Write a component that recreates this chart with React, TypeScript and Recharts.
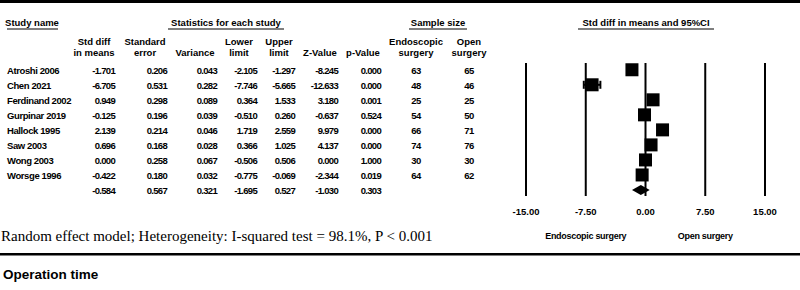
import React from "react";
import { ComposedChart, Scatter, XAxis, YAxis, ErrorBar } from "recharts";

const studies = [
  "Atroshi 2006",
  "Chen 2021",
  "Ferdinand 2002",
  "Gurpinar 2019",
  "Hallock 1995",
  "Saw 2003",
  "Wong 2003",
  "Worsge 1996",
];
const stdDiff = [-1.701, -6.705, 0.949, -0.125, 2.139, 0.696, 0.0, -0.422];
const stdErr = [0.206, 0.531, 0.298, 0.196, 0.214, 0.168, 0.258, 0.18];
const variance = [0.043, 0.282, 0.089, 0.039, 0.046, 0.028, 0.067, 0.032];
const lowerLimit = [-2.105, -7.746, 0.364, -0.51, 1.719, 0.366, -0.506, -0.775];
const upperLimit = [-1.297, -5.665, 1.533, 0.26, 2.559, 1.025, 0.506, -0.069];
const zValue = [-8.245, -12.633, 3.18, -0.637, 9.979, 4.137, 0.0, -2.344];
const pValue = [0.0, 0.0, 0.001, 0.524, 0.0, 0.0, 1.0, 0.019];
const nEndoscopic = [63, 48, 25, 54, 66, 74, 30, 64];
const nOpen = [65, 46, 25, 50, 71, 76, 30, 62];

// pooled (random effect) row
const pooledStats = [-0.584, 0.567, 0.321, -1.695, 0.527, -1.03, 0.303];

const xTicks = [-15, -7.5, 0, 7.5, 15];

// layout
const W = 800;
const H = 290;
const PLOT_LEFT = 526;
const PLOT_RIGHT = 765;
const PLOT_TOP = 63;
const PLOT_BOTTOM = 196;
const ROW0 = 70;
const ROW_STEP = 15;
const X_MIN = -15;
const X_MAX = 15;
const Y_DOMAIN = [-0.45, 8.4];
const PX_PER_UNIT = (PLOT_RIGHT - PLOT_LEFT) / (X_MAX - X_MIN);

const rowY = (i: number) => ROW0 + ROW_STEP * i;
const xPix = (v: number) => PLOT_LEFT + (v - X_MIN) * PX_PER_UNIT;

const studyData = studies.map((name, i) => ({
  name,
  row: i,
  x: stdDiff[i],
  ci: [stdDiff[i] - lowerLimit[i], upperLimit[i] - stdDiff[i]],
}));
const pooledData = [
  { row: studies.length, x: pooledStats[0], lower: pooledStats[3], upper: pooledStats[4] },
];
// one vertical rule per x tick, spanning the whole row range
const Y_MID = (Y_DOMAIN[0] + Y_DOMAIN[1]) / 2;
const ruleData = xTicks.map((t) => ({ x: t, row: Y_MID, span: [Y_MID - Y_DOMAIN[0], Y_DOMAIN[1] - Y_MID] }));

const statColumns = [
  { values: stdDiff, right: 115 },
  { values: stdErr, right: 167 },
  { values: variance, right: 217 },
  { values: lowerLimit, right: 257 },
  { values: upperLimit, right: 295 },
  { values: zValue, right: 338 },
  { values: pValue, right: 381 },
];

const headerCols = [
  { lines: ["Std diff", "in means"], cx: 94 },
  { lines: ["Standard", "error"], cx: 145 },
  { lines: ["", "Variance"], cx: 195 },
  { lines: ["Lower", "limit"], cx: 239 },
  { lines: ["Upper", "limit"], cx: 279 },
  { lines: ["", "Z-Value"], cx: 320 },
  { lines: ["", "p-Value"], cx: 363 },
  { lines: ["Endoscopic", "surgery"], cx: 416 },
  { lines: ["Open", "surgery"], cx: 469 },
];

const groupHeaders = [
  { text: "Study name", cx: 32, x1: 7, x2: 58 },
  { text: "Statistics for each study", cx: 226, x1: 168, x2: 284 },
  { text: "Sample size", cx: 438, x1: 409, x2: 467 },
  { text: "Std diff in means and 95%CI", cx: 646, x1: 578, x2: 714 },
];

const SANS = "'Liberation Sans', Arial, sans-serif";
const bold = { fontFamily: SANS, fontWeight: 700, fill: "#000" } as const;

const Square = (props: any) => {
  const { cx, cy } = props;
  return <rect x={cx - 6.5} y={cy - 6.5} width={13} height={13} fill="#000" />;
};

const Diamond = (props: any) => {
  const { cx, cy, payload } = props;
  const l = cx - (payload.x - payload.lower) * PX_PER_UNIT;
  const r = cx + (payload.upper - payload.x) * PX_PER_UNIT;
  return <polygon points={`${l},${cy} ${cx},${cy - 5} ${r},${cy} ${cx},${cy + 5}`} fill="#000" />;
};

const Nothing = () => <g />;

export default function App() {
  return (
    <div style={{ position: "absolute", left: 0, top: 0, width: W, height: H, background: "#fff" }}>
      <ComposedChart
        width={W}
        height={H}
        margin={{ top: PLOT_TOP, left: PLOT_LEFT, right: W - PLOT_RIGHT, bottom: H - PLOT_BOTTOM - 30 }}
      >
        <XAxis
          type="number"
          dataKey="x"
          domain={[X_MIN, X_MAX]}
          ticks={xTicks}
          allowDataOverflow
          height={30}
          axisLine={false}
          tickLine={false}
          tickMargin={6}
          tick={{ fontFamily: SANS, fontWeight: 700, fontSize: 9.5, fill: "#000" }}
          tickFormatter={(v: number) => v.toFixed(2)}
        />
        <YAxis type="number" dataKey="row" domain={Y_DOMAIN} reversed hide allowDataOverflow />
        <Scatter data={ruleData} shape={Nothing} isAnimationActive={false}>
          <ErrorBar dataKey="span" direction="y" width={0} stroke="#000" strokeWidth={2} />
        </Scatter>
        <Scatter data={studyData} shape={Square} isAnimationActive={false}>
          <ErrorBar dataKey="ci" direction="x" width={4} stroke="#000" strokeWidth={2} />
        </Scatter>
        <Scatter data={pooledData} shape={Diamond} isAnimationActive={false} />
      </ComposedChart>
      <svg width={W} height={H} style={{ position: "absolute", left: 0, top: 0, pointerEvents: "none" }}>
        <rect x={0} y={0} width={W} height={3} fill="#000" />
        {groupHeaders.map((g) => (
          <g key={g.text}>
            <text x={g.cx} y={26} textAnchor="middle" fontSize={9.5} {...bold}>
              {g.text}
            </text>
            <line x1={g.x1} x2={g.x2} y1={29} y2={29} stroke="#000" strokeWidth={1.2} />
          </g>
        ))}
        {headerCols.map((h) =>
          h.lines.map((t, k) => (
            <text key={h.cx + "-" + k} x={h.cx} y={45 + k * 10.5} textAnchor="middle" fontSize={9.5} {...bold}>
              {t}
            </text>
          ))
        )}
        {studies.map((s, i) => (
          <text key={s} x={7} y={rowY(i) + 3.5} fontSize={9.5} letterSpacing={-0.4} {...bold}>
            {s}
          </text>
        ))}
        {statColumns.map((c, ci) =>
          c.values.concat([pooledStats[ci]]).map((v, i) => (
            <text
              key={ci + "-" + i}
              x={c.right}
              y={rowY(i) + 3.5}
              textAnchor="end"
              fontSize={9.5}
              letterSpacing={-0.7}
              {...bold}
            >
              {v.toFixed(3)}
            </text>
          ))
        )}
        {[
          { values: nEndoscopic, cx: 416 },
          { values: nOpen, cx: 469 },
        ].map((c, ci) =>
          c.values.map((v, i) => (
            <text key={"n" + ci + "-" + i} x={c.cx} y={rowY(i) + 3.5} textAnchor="middle" fontSize={9.5} letterSpacing={-0.5} {...bold}>
              {v}
            </text>
          ))
        )}
        <text x={xPix(-7.5)} y={238.5} textAnchor="middle" fontSize={9} letterSpacing={-0.3} {...bold}>
          Endoscopic surgery
        </text>
        <text x={xPix(7.5)} y={238.5} textAnchor="middle" fontSize={9} letterSpacing={-0.3} {...bold}>
          Open surgery
        </text>
        <text x={1} y={241} fontSize={15} fontFamily="'Liberation Serif', 'Times New Roman', serif" fill="#000">
          Random effect model; Heterogeneity: I-squared test = 98.1%, P &lt; 0.001
        </text>
        <rect x={0} y={253} width={W} height={2.5} fill="#000" />
        <text x={3} y={279} fontSize={13.5} {...bold}>
          Operation time
        </text>
      </svg>
    </div>
  );
}
